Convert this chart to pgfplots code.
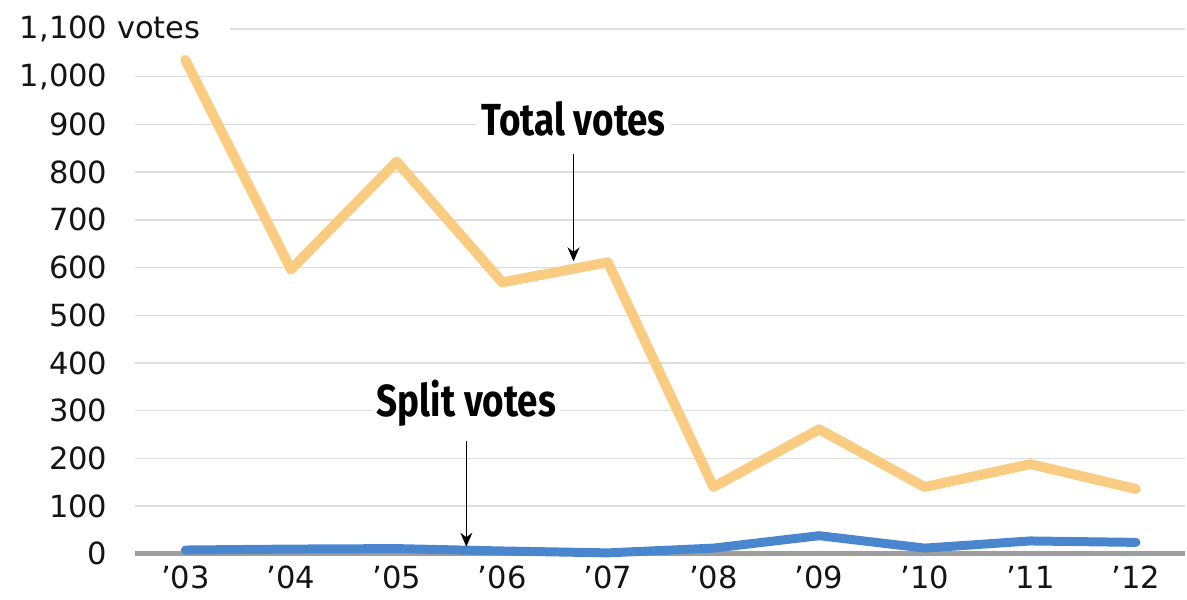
\documentclass[border=0pt]{standalone}
\usepackage{pgfplots}
\pgfplotsset{compat=1.18}
\usetikzlibrary{arrows.meta}
\usepackage{fontspec}
\setmainfont{DejaVu Sans}
\newfontfamily\notefont[BoldFont={Fira Sans Bold}]{Fira Sans}

\definecolor{totalc}{RGB}{249,204,130}
\definecolor{splitc}{RGB}{74,134,206}
\definecolor{gridc}{RGB}{222,222,222}
\definecolor{basec}{RGB}{158,158,158}

\begin{document}
\begin{tikzpicture}
\begin{axis}[
  scale only axis,
  width=526pt, height=263pt,
  xmin=-0.48, xmax=9.46,
  ymin=0, ymax=1100,
  axis line style={draw=none},
  major tick length=0pt,
  xtick={0,...,9},
  xticklabels={’03,’04,’05,’06,’07,’08,’09,’10,’11,’12},
  ytick={100,200,...,1000},
  yticklabels={100,200,300,400,500,600,700,800,900,{1,000}},
  extra y ticks={0,1100},
  extra y tick labels={0,{1,100\rlap{ votes}}},
  extra y tick style={grid=none},
  ymajorgrids,
  major grid style={gridc, line width=0.7pt},
  tick label style={font=\fontsize{15.3}{18}\selectfont, text=black!92},
  yticklabel style={anchor=east, inner sep=0pt, xshift=-13.5pt},
  xticklabel style={anchor=north, inner sep=0pt, yshift=-6pt},
  clip=false,
]
% baseline at zero
\draw[basec, line width=2.5pt] (axis cs:-0.48,0) -- (axis cs:9.46,0);
% top grid line, starting after the unit label
\draw[gridc, line width=0.7pt] (axis cs:0.42,1100) -- (axis cs:9.46,1100);

\addplot[totalc, line width=5pt, line cap=round, line join=round] coordinates {
  (0,1035) (1,596) (2,822) (3,569) (4,611) (5,140) (6,261) (7,140) (8,188) (9,136)
};
\addplot[splitc, line width=4.5pt, line cap=round, line join=round] coordinates {
  (0,8) (1,10) (2,11) (3,6) (4,2) (5,12) (6,38) (7,12) (8,27) (9,24)
};

% annotations
\node[fill=white, inner sep=2pt, font=\notefont\bfseries\fontsize{22.5}{24}\selectfont]
  at (axis cs:3.675,912) {\scalebox{0.82}[1]{Total votes}};
\draw[-{Stealth[length=7pt,width=6pt]}, line width=0.8pt] (axis cs:3.675,837) -- (axis cs:3.675,613);
\node[fill=white, inner sep=2pt, font=\notefont\bfseries\fontsize{22.5}{24}\selectfont]
  at (axis cs:2.66,315) {\scalebox{0.82}[1]{Split votes}};
\draw[-{Stealth[length=7pt,width=6pt]}, line width=0.8pt] (axis cs:2.66,236) -- (axis cs:2.66,15);
\end{axis}
\path ([xshift=-67.5pt,yshift=-23pt]current axis.south west) rectangle ([yshift=14.5pt]current axis.north east);
\end{tikzpicture}
\end{document}
